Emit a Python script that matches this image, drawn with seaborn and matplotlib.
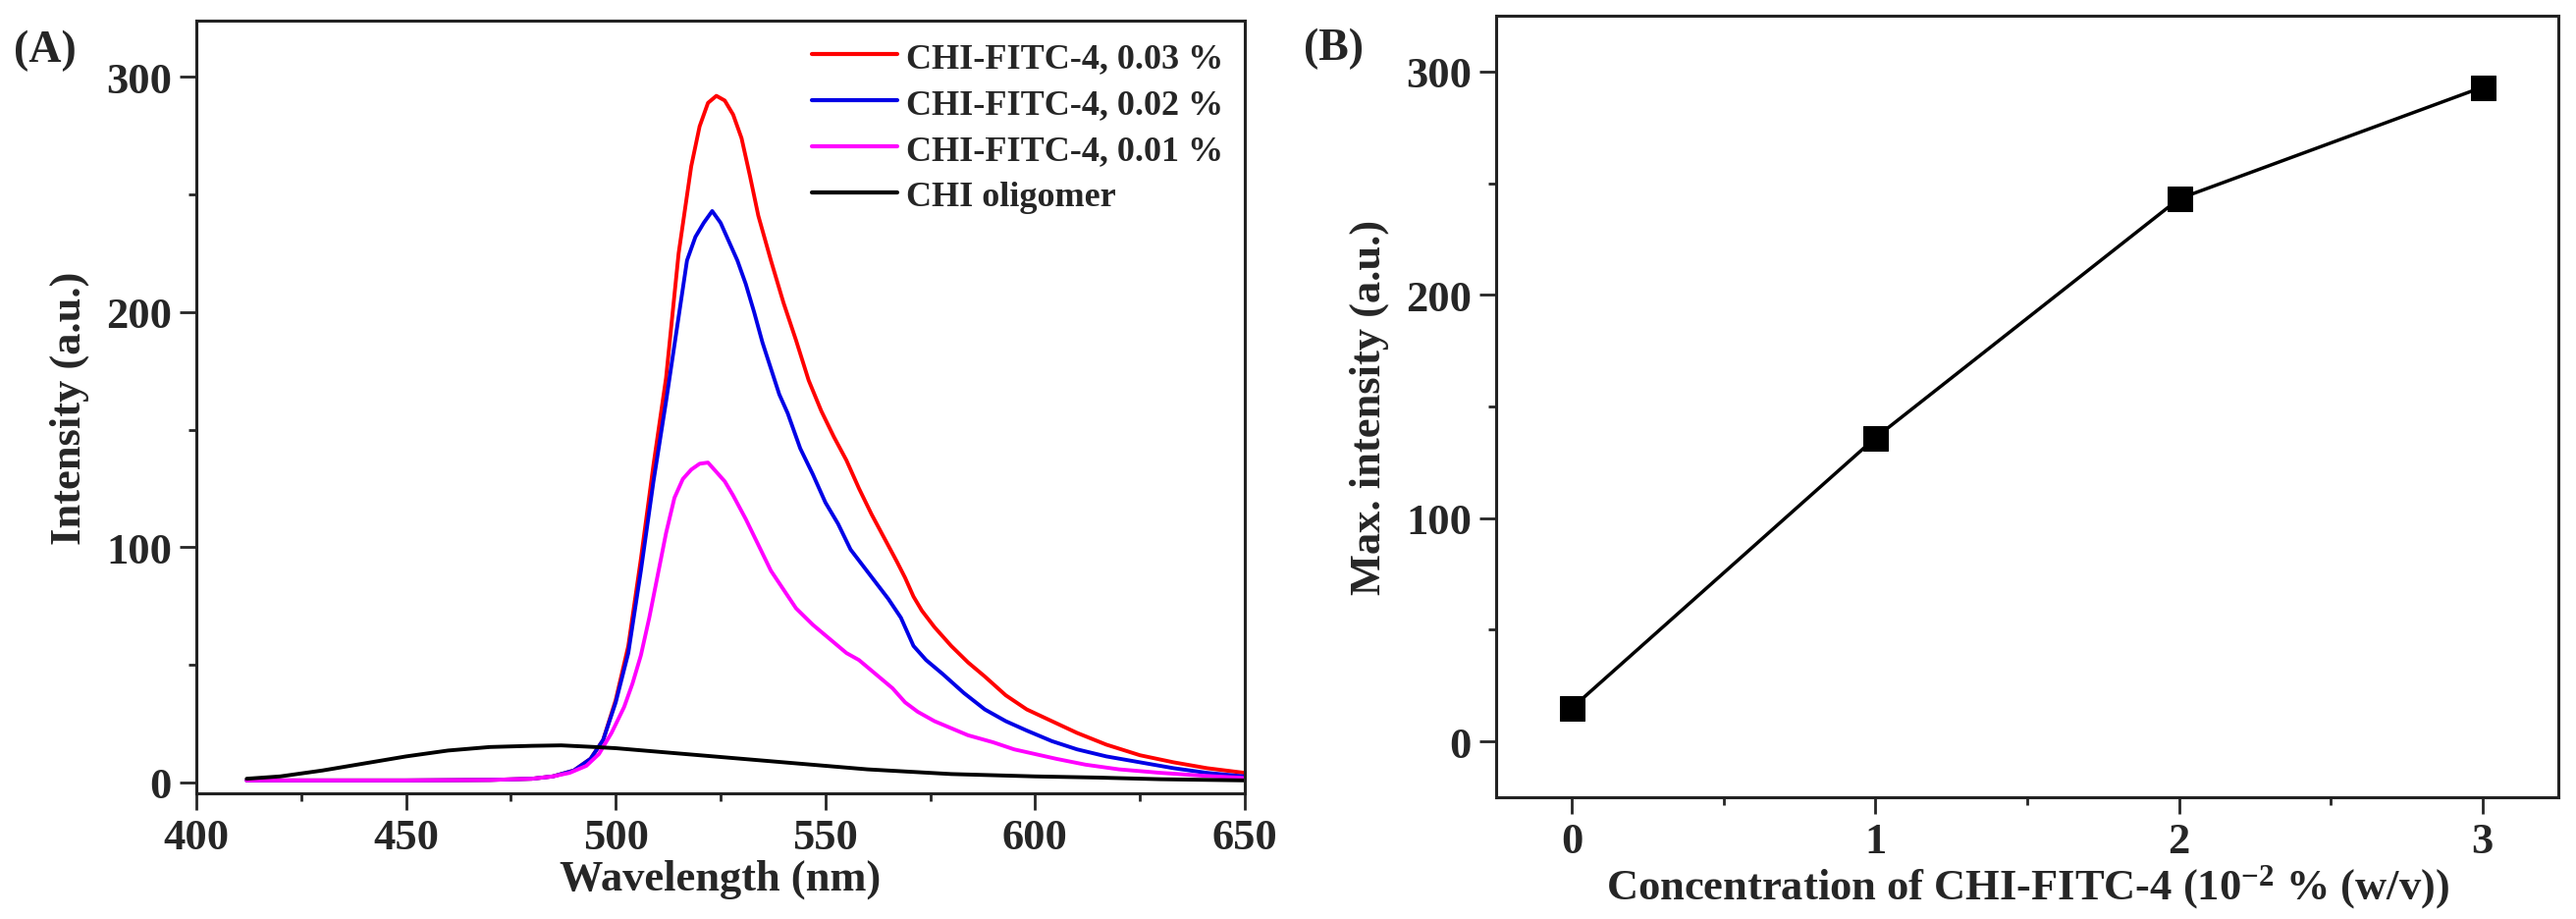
import numpy as np
import pandas as pd
import matplotlib
matplotlib.use("Agg")
import matplotlib.pyplot as plt
import matplotlib.ticker as ticker
import seaborn as sns

# ---- (A) emission spectra ----
wl_03 = [412, 430, 450, 470, 480, 485, 490, 494, 497, 500, 503, 506, 509, 512, 515, 518, 520, 522, 524, 526,
         528, 530, 532, 534, 537, 540, 543, 546, 549, 552, 555, 558, 561, 564, 567, 569, 571, 573, 576, 580,
         584, 588, 593, 598, 604, 610, 617, 625, 633, 641, 650]
int_03 = [0.8, 0.8, 0.8, 1.0, 1.5, 2.5, 5, 10, 18, 35, 58, 95, 135, 172, 225, 262, 279, 289, 292, 290,
          284, 274, 258, 241, 222, 204, 188, 171, 158, 147, 137, 125, 114, 104, 94, 87, 79, 73, 66, 58,
          51, 45, 37, 31, 26, 21, 16, 11.5, 8.5, 6, 4]

wl_02 = [412, 430, 450, 470, 480, 485, 490, 494, 497, 500, 503, 506, 509, 512, 515, 517, 519, 521, 523, 525,
         527, 529, 531, 533, 535, 537, 539, 541, 544, 547, 550, 553, 556, 559, 562, 565, 568, 570, 571, 574,
         578, 583, 588, 593, 598, 604, 610, 617, 625, 633, 641, 650]
int_02 = [0.8, 0.8, 0.8, 1.0, 1.5, 2.5, 5, 10, 18, 34, 55, 90, 128, 162, 198, 222, 232, 238, 243, 238,
          230, 222, 212, 200, 187, 176, 165, 157, 142, 131, 119, 110, 99, 92, 85, 78, 70, 62, 58, 52,
          46, 38, 31, 26, 22, 17.5, 14, 11, 8.5, 6, 4, 2.5]

wl_01 = [412, 430, 450, 470, 480, 485, 489, 493, 496, 499, 502, 504, 506, 508, 510, 512, 514, 516, 518, 520,
         522, 524, 526, 528, 531, 534, 537, 540, 543, 547, 551, 555, 558, 562, 566, 569, 572, 576, 580, 584,
         590, 595, 600, 605, 612, 620, 630, 640, 650]
int_01 = [0.8, 0.8, 0.8, 1.0, 1.5, 2.5, 4, 7, 12, 21, 32, 42, 54, 70, 88, 106, 121, 129, 133, 135.5,
          136, 132, 128, 122, 112, 101, 90, 82, 74, 67, 61, 55, 52, 46, 40, 34, 30, 26, 23, 20,
          17, 14, 12, 10, 7.5, 5.5, 4, 2.8, 1.8]

wl_olig = [412, 420, 430, 440, 450, 460, 470, 480, 487, 495, 500, 510, 520, 530, 540, 550, 560, 570, 580,
           590, 600, 615, 630, 650]
int_olig = [1.5, 2.5, 5, 8, 11, 13.5, 15, 15.5, 15.7, 15, 14.5, 13, 11.5, 10, 8.5, 7, 5.5, 4.5, 3.5,
            3, 2.5, 2, 1.3, 0.8]

series_names = ["CHI-FITC-4, 0.03 %", "CHI-FITC-4, 0.02 %", "CHI-FITC-4, 0.01 %", "CHI oligomer"]
series_colors = ["#ff0000", "#0000e6", "#ff00ff", "#000000"]

# ---- (B) max intensity vs concentration ----
conc = [0, 1, 2, 3]
max_int = [15, 136, 243, 293]

spec = pd.concat([
    pd.DataFrame({"wl": wl_03, "val": int_03, "sample": series_names[0]}),
    pd.DataFrame({"wl": wl_02, "val": int_02, "sample": series_names[1]}),
    pd.DataFrame({"wl": wl_01, "val": int_01, "sample": series_names[2]}),
    pd.DataFrame({"wl": wl_olig, "val": int_olig, "sample": series_names[3]}),
], ignore_index=True)
peak = pd.DataFrame({"conc": conc, "max": max_int})

sns.set_theme(style="ticks")
plt.rcParams["font.family"] = ["Liberation Serif", "DejaVu Serif"]
plt.rcParams["font.weight"] = "bold"
plt.rcParams["axes.labelweight"] = "bold"
plt.rcParams["mathtext.fontset"] = "custom"
plt.rcParams["mathtext.rm"] = "Liberation Serif:bold"
plt.rcParams["mathtext.bf"] = "Liberation Serif:bold"
plt.rcParams["mathtext.default"] = "rm"

fig = plt.figure(figsize=(26.24, 9.37), dpi=100, facecolor="white")
ax_a = fig.add_axes([200 / 2624, 1 - 809 / 937, 1068 / 2624, 787 / 937])
ax_b = fig.add_axes([1524 / 2624, 1 - 813 / 937, 1082 / 2624, 796 / 937])

#----------------------------------------
# (A) spectra
#----------------------------------------
sns.lineplot(data=spec, x="wl", y="val", hue="sample", hue_order=series_names,
             palette=series_colors, estimator=None, sort=True, linewidth=2.8, ax=ax_a)
ax_a.set_xlim(400, 650)
ax_a.set_ylim(-4.7, 324)
ax_a.xaxis.set_major_locator(ticker.MultipleLocator(50))
ax_a.xaxis.set_minor_locator(ticker.MultipleLocator(25))
ax_a.yaxis.set_major_locator(ticker.MultipleLocator(100))
ax_a.yaxis.set_minor_locator(ticker.MultipleLocator(50))
ax_a.set_xlabel("Wavelength (nm)", fontsize=32, labelpad=1)
ax_a.set_ylabel("Intensity (a.u.)", fontsize=32, labelpad=12)
leg = ax_a.legend(loc="upper right", frameon=False, fontsize=26, handlelength=2.4,
                  labelspacing=0.38, handletextpad=0.25, borderaxespad=0.2)
for h in leg.get_lines():
    h.set_linewidth(3)

#----------------------------------------
# (B) peak intensity
#----------------------------------------
sns.lineplot(data=peak, x="conc", y="max", color="black", marker="s", markersize=18,
             markeredgecolor="black", linewidth=2.5, ax=ax_b)
ax_b.set_xlim(-0.25, 3.25)
ax_b.set_ylim(-25, 325)
ax_b.xaxis.set_major_locator(ticker.MultipleLocator(1))
ax_b.xaxis.set_minor_locator(ticker.MultipleLocator(0.5))
ax_b.yaxis.set_major_locator(ticker.MultipleLocator(100))
ax_b.yaxis.set_minor_locator(ticker.MultipleLocator(50))
ax_b.set_xlabel(r"Concentration of CHI-FITC-4 (10$^{-2}$ % (w/v))", fontsize=32, labelpad=1)
ax_b.set_ylabel("Max. intensity (a.u.)", fontsize=32, labelpad=12)

for ax in (ax_a, ax_b):
    for s in ax.spines.values():
        s.set_linewidth(2.2)
        s.set_color("#222222")
    ax.tick_params(which="major", length=12, width=2, labelsize=32, pad=6, direction="out")
    ax.tick_params(which="minor", length=6, width=2, direction="out")
    for lab in ax.get_xticklabels() + ax.get_yticklabels():
        lab.set_fontweight("bold")

fig.text(46 / 2624, 1 - 52 / 937, "(A)", fontsize=33, fontweight="bold", ha="center", va="center")
fig.text(1359 / 2624, 1 - 50 / 937, "(B)", fontsize=33, fontweight="bold", ha="center", va="center")

fig.savefig("out.png", dpi=100, facecolor="white")
